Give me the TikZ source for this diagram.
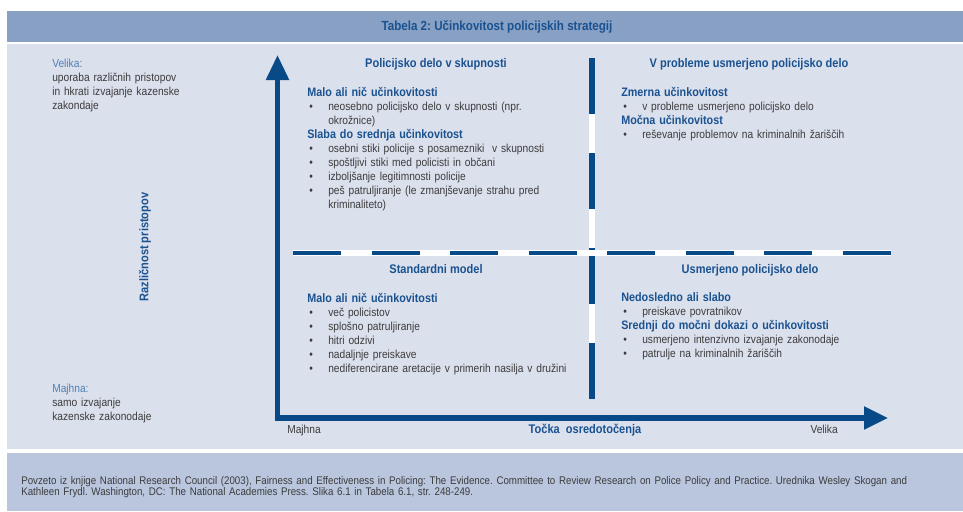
\documentclass[tikz,border=0pt]{standalone}
\usepackage{fontspec}
\setmainfont{Liberation Sans}[FakeStretch=0.88]
\usepackage{xcolor}
\usepackage{tikz}
\usetikzlibrary{arrows.meta, positioning}

\definecolor{titlebar}{RGB}{135,160,196}
\definecolor{panel}{RGB}{219,224,237}
\definecolor{footbar}{RGB}{185,198,222}
\definecolor{axisblue}{RGB}{8,74,135}
\definecolor{headblue}{RGB}{26,82,144}
\definecolor{lightblue}{RGB}{79,127,181}
\definecolor{bodygray}{RGB}{60,60,60}

\frenchspacing
\newcommand{\bodyfont}{\fontsize{8.7}{10.5}\selectfont}
\newcommand{\headfont}{\fontsize{9.4}{10.5}\selectfont\bfseries}
\newcommand{\bul}[1]{\makebox[15.75pt][l]{\hspace{1.5pt}\textbullet}#1}
\newcommand{\cont}[1]{\hspace*{15.75pt}#1}
\newcommand{\subhead}[1]{{\fontsize{9.2}{10.5}\selectfont\bfseries\color{headblue}#1}}

\tikzset{
  block/.style={anchor=base west, text width=235pt, align=left, inner sep=0pt,
    font=\bodyfont, text=bodygray},
  head/.style={anchor=base, inner sep=0pt, font=\headfont, text=headblue},
  axis/.style={axisblue, line width=4pt,
    {Triangle[length=18.75pt,width=16.5pt]}-{Triangle[length=18pt,width=16.5pt]}},
  divider/.style={line width=3.6pt}
}

\begin{document}
\begin{tikzpicture}[x=0.75pt, y=-0.75pt]
\useasboundingbox (0,0) rectangle (963,511);
\fill[white] (0,0) rectangle (963,511);
% Title bar
\fill[titlebar] (7,11) rectangle (963,42);
% Main panel
\fill[panel] (7,43.5) rectangle (963,449);
% Source bar
\fill[footbar] (7,452.5) rectangle (963,511);

\node[font=\fontsize{9.9}{11}\selectfont\bfseries, text=headblue] (title) at (497,27) {Tabela 2: Učinkovitost policijskih strategij};

% Quadrant dividers
\coordinate (vtop) at (592,58);
\coordinate (vbot) at (592,399);
\coordinate (hleft) at (293,253);
\coordinate (hright) at (891,253);
\draw[divider, white, line width=4.2pt] (vtop) -- (vbot);
\draw[divider, axisblue, line width=4.2pt, dash pattern=on 42pt off 29.25pt] (vtop) -- (vbot);
\draw[divider, white, line width=4pt] (hleft) -- (hright);
\draw[divider, axisblue, line width=3.3pt, dash pattern=on 36pt off 22.9pt] (hleft) -- (hright);

% Axes
\coordinate (origin) at (277.5,418);
\coordinate (ytip) at (277.5,55);
\coordinate (xtip) at (888,418);
\draw[axis] (ytip) -- (origin) -- (xtip);

% Axis texts
\node[head, rotate=90, anchor=center] (ylabel) at (145,247) {Različnost pristopov};
\node[block] (high) at (52,67.5) {{\color{lightblue}Velika:}\\
  uporaba različnih pristopov\\
  in hkrati izvajanje kazenske\\
  zakondaje};
\node[block] (low) at (52,392.5) {{\color{lightblue}Majhna:}\\
  samo izvajanje\\
  kazenske zakonodaje};
\node[anchor=base west, inner sep=0pt, font=\bodyfont, text=bodygray] (xlow) at (287,433.5) {Majhna};
\node[anchor=base east, inner sep=0pt, font=\bodyfont, text=bodygray] (xhigh) at (838,433.5) {Velika};
\node[head] (xlabel) at (585,433.5) {Točka~ osredotočenja};

% Quadrants
\node[head] (comHead) at (436,67.5) {Policijsko delo v skupnosti};
\node[block] (com) at (307,96.5) {\subhead{Malo ali nič učinkovitosti}\\
  \bul{neosebno policijsko delo v skupnosti (npr.}\\
  \cont{okrožnice)}\\
  \subhead{Slaba do srednja učinkovitost}\\
  \bul{osebni stiki policije s posamezniki~ v skupnosti}\\
  \bul{spoštljivi stiki med policisti in občani}\\
  \bul{izboljšanje legitimnosti policije}\\
  \bul{peš patruljiranje (le zmanjševanje strahu pred}\\
  \cont{kriminaliteto)}};

\node[head] (probHead) at (749,67.5) {V probleme usmerjeno policijsko delo};
\node[block] (prob) at (621,96.5) {\subhead{Zmerna učinkovitost}\\
  \bul{v probleme usmerjeno policijsko delo}\\
  \subhead{Močna učinkovitost}\\
  \bul{reševanje problemov na kriminalnih žariščih}};

\node[head] (stdHead) at (436,273.5) {Standardni model};
\node[block] (std) at (307,302.5) {\subhead{Malo ali nič učinkovitosti}\\
  \bul{več policistov}\\
  \bul{splošno patruljiranje}\\
  \bul{hitri odzivi}\\
  \bul{nadaljnje preiskave}\\
  \bul{nediferencirane aretacije v primerih nasilja v družini}};

\node[head] (focHead) at (750,273.5) {Usmerjeno policijsko delo};
\node[block] (foc) at (621,301.5) {\subhead{Nedosledno ali slabo}\\
  \bul{preiskave povratnikov}\\
  \subhead{Srednji do močni dokazi o učinkovitosti}\\
  \bul{usmerjeno intenzivno izvajanje zakonodaje}\\
  \bul{patrulje na kriminalnih žariščih}};

% Source
\node[anchor=base west, text width=700pt, align=left, inner sep=0pt,
  font=\fontsize{8.3}{8.6}\selectfont, text=bodygray] (source) at (21,484)
  {Povzeto iz knjige National Research Council (2003), Fairness and Effectiveness in Policing: The Evidence. Committee to Review Research on Police Policy and Practice. Urednika Wesley Skogan and\\
  Kathleen Frydl. Washington, DC: The National Academies Press. Slika 6.1 in Tabela 6.1, str. 248-249.};
\end{tikzpicture}
\end{document}
